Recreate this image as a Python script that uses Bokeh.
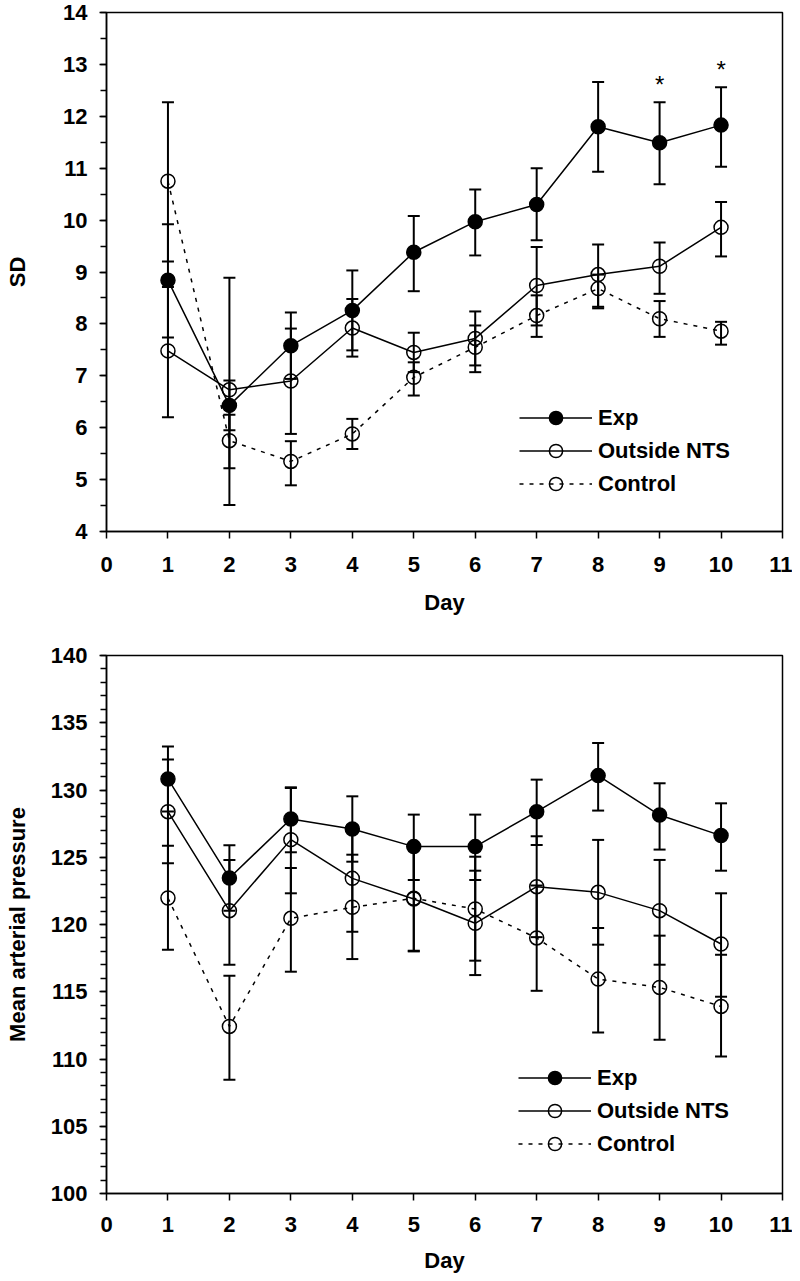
from bokeh.plotting import figure
from bokeh.models import (ColumnDataSource, Whisker, TeeHead, SingleIntervalTicker,
                          Range1d, Legend, LegendItem)
from bokeh.layouts import column
from bokeh.core.properties import value
from bokeh.embed import file_html
from bokeh.resources import INLINE

# ---------------- data ----------------
days = [1, 2, 3, 4, 5, 6, 7, 8, 9, 10]

# Top panel: SD
sd_exp    = [8.84, 6.43, 7.58, 8.26, 9.38, 9.97, 10.30, 11.80, 11.49, 11.83]
sd_exp_up = [9.92, 6.91, 8.22, 9.03, 10.08, 10.59, 11.00, 12.66, 12.27, 12.56]
sd_exp_lo = [7.74, 5.95, 6.94, 7.49, 8.63, 9.32, 9.61, 10.93, 10.69, 11.03]

sd_out    = [7.48, 6.73, 6.90, 7.92, 7.45, 7.72, 8.74, 8.95, 9.11, 9.86]
sd_out_up = [8.71, 8.89, 7.91, 8.48, 7.83, 8.24, 9.48, 9.53, 9.57, 10.35]
sd_out_lo = [6.20, 4.51, 5.88, 7.37, 7.07, 7.20, 7.97, 8.33, 8.58, 9.30]

sd_ctl    = [10.75, 5.75, 5.35, 5.88, 6.97, 7.55, 8.16, 8.68, 8.10, 7.86]
sd_ctl_up = [12.27, 6.25, 5.74, 6.17, 7.26, 7.97, 8.55, 8.95, 8.44, 8.04]
sd_ctl_lo = [9.20, 5.22, 4.89, 5.59, 6.62, 7.07, 7.75, 8.30, 7.75, 7.60]

sig_days = [9, 10]   # days marked with *

# Bottom panel: Mean arterial pressure
map_exp    = [130.82, 123.46, 127.85, 127.10, 125.79, 125.79, 128.39, 131.07, 128.14, 126.61]
map_exp_up = [133.23, 125.89, 130.15, 129.53, 128.17, 128.17, 130.77, 133.50, 130.50, 129.01]
map_exp_lo = [128.40, 121.03, 125.37, 124.67, 123.31, 123.31, 125.91, 128.47, 125.57, 124.00]

map_out    = [128.39, 121.03, 126.31, 123.43, 121.90, 120.09, 122.81, 122.39, 121.03, 118.55]
map_out_up = [132.26, 124.80, 130.20, 127.40, 125.75, 124.00, 126.56, 126.29, 124.80, 122.32]
map_out_lo = [124.55, 117.01, 122.32, 119.46, 118.05, 116.24, 119.06, 118.50, 117.01, 114.63]

map_ctl    = [121.97, 112.42, 120.46, 121.28, 121.95, 121.15, 119.00, 115.94, 115.32, 113.91]
map_ctl_up = [125.86, 116.19, 124.20, 125.19, 125.80, 125.04, 122.90, 119.74, 119.17, 117.75]
map_ctl_lo = [118.12, 108.45, 116.49, 117.43, 118.00, 117.31, 115.07, 111.97, 111.43, 110.19]

series_names = ["Exp", "Outside NTS", "Control"]
x_label = "Day"

FONT = "Liberation Sans"


def style_axes(p, y_interval, y_minor, xlabel_standoff, label_standoff, ylab_standoff):
    p.xaxis.ticker = SingleIntervalTicker(interval=1, num_minor_ticks=0)
    p.yaxis.ticker = SingleIntervalTicker(interval=y_interval, num_minor_ticks=y_minor)
    for ax in [p.xaxis[0], p.yaxis[0]]:
        ax.axis_line_width = 1.5
        ax.axis_line_color = "black"
        ax.major_tick_line_width = 1.5
        ax.minor_tick_line_width = 1.5
        ax.major_tick_line_color = "black"
        ax.minor_tick_line_color = "black"
        ax.major_tick_out = 7
        ax.major_tick_in = 0
        ax.minor_tick_out = 6
        ax.minor_tick_in = 0
        ax.major_label_text_font = FONT
        ax.major_label_text_font_style = "bold"
        ax.major_label_text_font_size = "22px"
        ax.major_label_text_color = "black"
        ax.axis_label_text_font = FONT
        ax.axis_label_text_font_style = "bold"
        ax.axis_label_text_font_size = "22px"
        ax.axis_label_text_color = "black"
    p.xaxis.major_label_standoff = xlabel_standoff
    p.xaxis.axis_label_standoff = label_standoff
    p.yaxis.major_label_standoff = 12
    p.yaxis.axis_label_standoff = ylab_standoff
    p.xgrid.visible = False
    p.ygrid.visible = False
    p.outline_line_color = "black"
    p.outline_line_width = 1.5
    p.outline_line_alpha = 1.0


def add_series(p, mean, up, lo, filled, dash):
    src = ColumnDataSource(dict(x=days, y=mean, up=up, lo=lo))
    ln = p.line("x", "y", source=src, line_color="black", line_width=1.5,
                line_dash=dash)
    w = Whisker(source=src, base="x", upper="up", lower="lo", dimension="height",
                line_color="black", line_width=2,
                upper_head=TeeHead(size=12, line_width=2, line_color="black"),
                lower_head=TeeHead(size=12, line_width=2, line_color="black"))
    p.add_layout(w)
    if filled:
        sc = p.scatter("x", "y", source=src, marker="circle", size=14,
                       fill_color="black", line_color="black", line_width=1.5)
    else:
        sc = p.scatter("x", "y", source=src, marker="circle", size=14,
                       fill_color=None, line_color="black", line_width=1.5)
    return [ln, sc]


def add_legend(p, items, loc):
    leg = Legend(items=[LegendItem(label=n, renderers=r) for n, r in items],
                 location=loc, padding=0, margin=0, spacing=0,
                 glyph_width=73, glyph_height=33, label_height=33,
                 label_standoff=6,
                 label_text_font=FONT, label_text_font_style="bold",
                 label_text_font_size="22px", label_text_color="black",
                 border_line_color=None, background_fill_alpha=0)
    p.add_layout(leg, "center")


# ---------------- top panel ----------------
p1 = figure(width=792, height=622, output_backend="svg", toolbar_location=None,
            x_range=Range1d(0, 11), y_range=Range1d(4, 14),
            min_border_left=106, min_border_right=10, min_border_top=12,
            min_border_bottom=91, background_fill_color="white",
            border_fill_color="white")
p1.xaxis.axis_label = x_label
p1.yaxis.axis_label = "SD"
style_axes(p1, 1, 2, 18, 15, 30)

r_ctl = add_series(p1, sd_ctl, sd_ctl_up, sd_ctl_lo, False, "4 6")
r_out = add_series(p1, sd_out, sd_out_up, sd_out_lo, False, "solid")
r_exp = add_series(p1, sd_exp, sd_exp_up, sd_exp_lo, True, "solid")

star_y = [sd_exp_up[days.index(d)] for d in sig_days]
p1.text(x=sig_days, y=star_y, text=["*"] * len(sig_days), text_align="center",
        text_baseline="bottom", y_offset=-4, text_font=value(FONT),
        text_font_size="24px", text_color="black")

add_legend(p1, [(series_names[0], r_exp), (series_names[1], r_out),
                (series_names[2], r_ctl)], (413, 31))

# ---------------- bottom panel ----------------
p2 = figure(width=792, height=658, output_backend="svg", toolbar_location=None,
            x_range=Range1d(0, 11), y_range=Range1d(100, 140),
            min_border_left=106, min_border_right=3, min_border_top=33,
            min_border_bottom=87, background_fill_color="white",
            border_fill_color="white")
p2.xaxis.axis_label = x_label
p2.yaxis.axis_label = "Mean arterial pressure"
style_axes(p2, 5, 5, 16, 13, 18)

q_ctl = add_series(p2, map_ctl, map_ctl_up, map_ctl_lo, False, "4 6")
q_out = add_series(p2, map_out, map_out_up, map_out_lo, False, "solid")
q_exp = add_series(p2, map_exp, map_exp_up, map_exp_lo, True, "solid")

add_legend(p2, [(series_names[0], q_exp), (series_names[1], q_out),
                (series_names[2], q_ctl)], (412, 33))

layout = column(p1, p2, spacing=0)
open("out.html", "w").write(file_html(layout, INLINE))
